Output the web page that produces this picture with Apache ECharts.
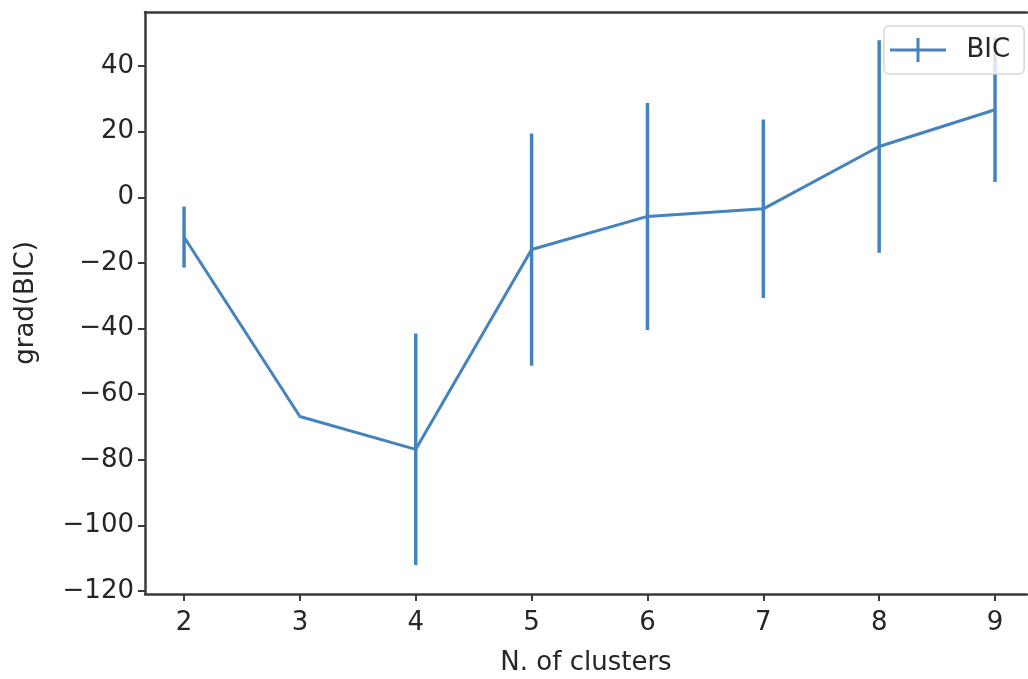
<!DOCTYPE html>
<html>
<head>
<meta charset="utf-8">
<script src="https://cdn.jsdelivr.net/npm/echarts@6/dist/echarts.min.js"></script>
<style>
  html, body { margin: 0; padding: 0; background: #fff; }
  #chart { width: 1028px; height: 679px; }
</style>
</head>
<body>
<div id="chart"></div>
<script>
// number of clusters vs. gradient of BIC, with error bars
const clusters = [2, 3, 4, 5, 6, 7, 8, 9]
const gradBic = [-12.1, -66.8, -76.8, -15.9, -5.8, -3.5, 15.5, 26.7]
const gradErr = [9.3, 0, 35.3, 35.4, 34.6, 27.2, 32.4, 22.0]
const xTicks = [2, 3, 4, 5, 6, 7, 8, 9]
const yTicks = [40, 20, 0, -20, -40, -60, -80, -100, -120]

const blue = '#4483bd'
const spine = '#3a3a3a'
const textColor = '#262626'
const fontFamily = 'DejaVu Sans'
const fontSize = 26

const fmt = v => String(v).replace('-', '\u2212')

const chart = echarts.init(document.getElementById('chart'), null, { renderer: 'canvas' })

// the plot is cut off on the right, so the x range stops before 9.35
chart.setOption({
  animation: false,
  backgroundColor: '#fff',
  textStyle: { fontFamily: fontFamily },
  grid: {
    left: 145,
    top: 12,
    right: 1,
    bottom: 85,
    outerBoundsMode: 'none',
    show: false
  },
  legend: {
    left: 884,
    top: 26,
    padding: [11, 14, 11, 6],
    backgroundColor: 'rgba(255,255,255,0.8)',
    borderColor: '#d6d6d6',
    borderWidth: 1.5,
    borderRadius: 5,
    itemWidth: 57,
    itemHeight: 24,
    z: 10,
    data: [{
      name: 'BIC',
      // errorbar style marker: horizontal line with a vertical cap
      icon: 'path://M0,10.5 H56 V13.5 H0 Z M26.5,0 H29.5 V24 H26.5 Z'
    }],
    itemStyle: { color: blue, borderWidth: 0 },
    textStyle: {
      color: textColor, fontSize: fontSize, fontFamily: fontFamily,
      padding: [0, 0, 0, 15]
    }
  },
  xAxis: [
    {
      type: 'value',
      min: 1.663,
      max: 9.276,
      position: 'bottom',
      name: 'N. of clusters',
      nameLocation: 'middle',
      nameGap: 56,
      nameTextStyle: { color: textColor, fontSize: fontSize, fontFamily: fontFamily, verticalAlign: 'top' },
      splitLine: { show: false },
      axisLine: { show: true, onZero: false, lineStyle: { color: spine, width: 2.5 } },
      axisTick: {
        show: true,
        length: 7,
        customValues: xTicks,
        lineStyle: { color: spine, width: 2 }
      },
      axisLabel: {
        customValues: xTicks,
        margin: 16,
        color: textColor,
        fontSize: fontSize,
        fontFamily: fontFamily,
        formatter: fmt
      }
    },
    {
      // top spine only
      type: 'value',
      min: 1.663,
      max: 9.276,
      position: 'top',
      splitLine: { show: false },
      axisLine: { show: true, onZero: false, lineStyle: { color: spine, width: 2.5 } },
      axisTick: { show: false },
      axisLabel: { show: false }
    }
  ],
  yAxis: {
    type: 'value',
    min: -120.9,
    max: 56.5,
    name: 'grad(BIC)',
    nameLocation: 'middle',
    nameGap: 106,
    nameRotate: 90,
    nameTextStyle: { color: textColor, fontSize: fontSize, fontFamily: fontFamily },
    splitLine: { show: false },
    axisLine: { show: true, onZero: false, lineStyle: { color: spine, width: 2.5 } },
    axisTick: {
      show: true,
      length: 7,
      customValues: yTicks,
      lineStyle: { color: spine, width: 2 }
    },
    axisLabel: {
      customValues: yTicks,
      margin: 11,
      color: textColor,
      fontSize: fontSize,
      fontFamily: fontFamily,
      formatter: fmt
    }
  },
  series: [
    {
      name: 'BIC',
      type: 'line',
      data: clusters.map((x, i) => [x, gradBic[i]]),
      showSymbol: false,
      symbol: 'none',
      color: blue,
      lineStyle: { color: blue, width: 3 },
      z: 2
    },
    {
      name: 'err',
      type: 'custom',
      data: clusters.map((x, i) => [x, gradBic[i] - gradErr[i], gradBic[i] + gradErr[i]]),
      encode: { x: 0, y: [1, 2] },
      renderItem: (params, api) => {
        const lo = api.coord([api.value(0), api.value(1)])
        const hi = api.coord([api.value(0), api.value(2)])
        return {
          type: 'line',
          shape: { x1: lo[0], y1: lo[1], x2: hi[0], y2: hi[1] },
          style: { stroke: blue, lineWidth: 3.5 }
        }
      },
      z: 3
    }
  ]
})
</script>
</body>
</html>
